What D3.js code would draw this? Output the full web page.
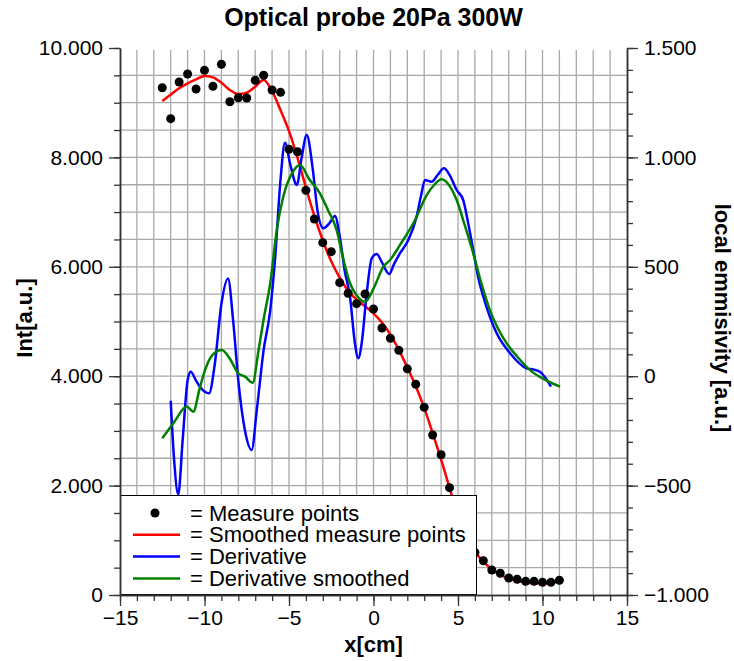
<!DOCTYPE html>
<html>
<head>
<meta charset="utf-8">
<script src="https://cdn.jsdelivr.net/npm/d3@7"></script>
<style>
  body { margin: 0; background: #fff; }
  svg text { font-family: "Liberation Sans", Arial, sans-serif; }
</style>
</head>
<body>
<div id="container"></div>
<script>
/* CONSTANTS AND GLOBALS */
const width = 734;
const height = 661;
const margin = { top: 48, right: 107, bottom: 66, left: 120 };

/* DATA */
// measure points, x in cm, intensity in a.u. (left axis)
const measureX = [-12.5, -12, -11.5, -11, -10.5, -10, -9.5, -9, -8.5, -8, -7.5, -7, -6.5, -6, -5.5, -5,
  -4.5, -4, -3.5, -3, -2.5, -2, -1.5, -1, -0.5, 0, 0.5, 1, 1.5, 2, 2.5, 3, 3.5, 4, 4.5, 5, 5.5, 6,
  6.5, 7, 7.5, 8, 8.5, 9, 9.5, 10, 10.5, 11];
const measureY = [9274, 8708, 9378, 9525, 9250, 9592, 9300, 9702, 9018, 9091, 9086, 9410, 9501, 9232, 9190, 8148,
  8104, 7398, 6874, 6441, 6277, 5710, 5516, 5326, 5503, 5229, 4881, 4693, 4473, 4135, 3852, 3431, 2925, 2565, 1962, 1400, 1000, 780,
  627, 457, 397, 311, 287, 250, 250, 232, 232, 269];
const smoothY = [9030, 9150, 9263, 9355, 9428, 9488, 9464, 9366, 9232, 9159, 9183, 9293, 9415, 9210, 8860, 8480,
  8000, 7450, 6930, 6480, 6100, 5800, 5560, 5400, 5280, 5150, 4980, 4760, 4480, 4160, 3820, 3420, 2960, 2480, 1960, 1450, 1050, 790,
  610, 470, 370, 300, 260, 230, 215, 210, 220, 250];

// derivative (right axis, local emissivity)
const derivX = [-12, -11.8, -11.55, -11.3, -11, -10.82, -10.5, -10.27, -9.73, -9.4, -9, -8.61, -8.3, -8, -7.6, -7.21,
  -6.9, -6.5, -6.12, -5.83, -5.5, -5.24, -4.9, -4.54, -4.25, -3.95, -3.6, -3.3, -2.97, -2.6, -2.28, -2, -1.7, -1.39,
  -1.1, -0.9, -0.7, -0.4, -0.1, 0.19, 0.5, 0.93, 1.2, 1.57, 2.06, 2.55, 2.8, 3.05, 3.44, 3.8, 4.17, 4.5, 4.92, 5.31,
  5.6, 5.9, 6.2, 6.5, 7.29, 8.08, 9.06, 9.5, 9.85, 10.2, 10.5];
const derivY = [-112, -380, -540, -300, -20, 20, -20, -48, -78, 50, 330, 447, 250, -20, -250, -337,
  -150, 120, 295, 531, 900, 1067, 960, 874, 1000, 1102, 950, 750, 676, 700, 732, 640, 480, 363,
  150, 82, 150, 380, 540, 558, 520, 467, 510, 562, 622, 729, 820, 897, 889, 920, 950, 920, 851, 805,
  700, 577, 450, 363, 196, 105, 36, 30, 20, -10, -48];

const derivSmoothX = [-12.5, -11.8, -11.05, -10.66, -10.3, -9.97, -9.5, -8.98, -8.5, -8, -7.6, -7.15, -6.8, -6.5, -6.12,
  -5.7, -5.34, -4.8, -4.35, -3.8, -3.17, -2.7, -2.18, -1.8, -1.39, -1, -0.5, 0, 0.58, 0.98, 1.57, 2.46, 3.15, 3.6,
  4.03, 4.5, 4.92, 5.4, 5.9, 6.4, 6.89, 7.88, 8.5, 9.26, 10, 11.04];
const derivSmoothY = [-284, -210, -139, -162, -60, 28, 100, 120, 80, 13, -2, -30, 120, 260, 420,
  680, 820, 930, 965, 900, 836, 760, 668, 540, 425, 370, 340, 400, 500, 531, 600, 714, 828, 875,
  900, 870, 805, 690, 562, 420, 302, 150, 90, 28, -10, -48];

// ticks
const xMajor = [-15, -10, -5, 0, 5, 10, 15];
const xMinor = d3.range(-15, 16, 1);
const yLeftMajor = [0, 2000, 4000, 6000, 8000, 10000];
const yLeftMinor = d3.range(0, 10001, 500);
const yRightMajor = [-1000, -500, 0, 500, 1000, 1500];
const yRightMinor = d3.range(-1000, 1501, 100);

const legendItems = [
  { label: "= Measure points", type: "dot", color: "#000" },
  { label: "= Smoothed measure points", type: "line", color: "#ff0000" },
  { label: "= Derivative", type: "line", color: "#0000ff" },
  { label: "= Derivative smoothed", type: "line", color: "#008000" }
];

const locale = d3.formatLocale({ decimal: ",", thousands: ".", grouping: [3], currency: ["", ""], minus: "\u2212" });
const fmt = locale.format(",d");

/* SCALES */
const xScale = d3.scaleLinear().domain([-15, 15]).range([margin.left, width - margin.right]);
const yLeft = d3.scaleLinear().domain([0, 10000]).range([height - margin.bottom, margin.top]);
const yRight = d3.scaleLinear().domain([-1000, 1500]).range([height - margin.bottom, margin.top]);

const svg = d3.select("#container").append("svg")
  .attr("width", width)
  .attr("height", height);

/* GRID */
const grid = svg.append("g").attr("stroke", "#a8a8a8").attr("stroke-width", 1.3);
grid.selectAll("line.vx")
  .data(xMinor.filter(d => d > -15 && d < 15))
  .join("line")
  .attr("x1", d => xScale(d)).attr("x2", d => xScale(d))
  .attr("y1", yLeft(10000) + 2).attr("y2", yLeft(0));
grid.selectAll("line.hy")
  .data(yLeftMinor.filter(d => d > 0 && d < 10000))
  .join("line")
  .attr("x1", xScale(-15)).attr("x2", xScale(15))
  .attr("y1", d => yLeft(d)).attr("y2", d => yLeft(d));

/* LINES */
const lineSmooth = d3.line()
  .x((d, i) => xScale(measureX[i]))
  .y(d => yLeft(d))
  .curve(d3.curveMonotoneX);
svg.append("path")
  .datum(smoothY)
  .attr("d", lineSmooth)
  .attr("fill", "none").attr("stroke", "#ff0000").attr("stroke-width", 2.5);

const lineDeriv = d3.line()
  .x(d => xScale(d[0]))
  .y(d => yRight(d[1]))
  .curve(d3.curveMonotoneX);
svg.append("path")
  .datum(derivX.map((x, i) => [x, derivY[i]]))
  .attr("d", lineDeriv)
  .attr("fill", "none").attr("stroke", "#0000ff").attr("stroke-width", 2.5);
svg.append("path")
  .datum(derivSmoothX.map((x, i) => [x, derivSmoothY[i]]))
  .attr("d", lineDeriv)
  .attr("fill", "none").attr("stroke", "#008000").attr("stroke-width", 2.5);

svg.selectAll("circle.pt")
  .data(measureY)
  .join("circle")
  .attr("class", "pt")
  .attr("cx", (d, i) => xScale(measureX[i]))
  .attr("cy", d => yLeft(d))
  .attr("r", 4.5)
  .attr("fill", "#000");

/* LEGEND */
const legend = svg.append("g");
legend.append("rect")
  .attr("x", 120.5).attr("y", 495.5)
  .attr("width", 356).attr("height", 99)
  .attr("fill", "#fff").attr("stroke", "#000").attr("stroke-width", 1);
legendItems.forEach((d, i) => {
  const cy = 513 + i * 21.8;
  if (d.type === "dot") {
    legend.append("circle").attr("cx", 155).attr("cy", cy).attr("r", 4.5).attr("fill", d.color);
  } else {
    legend.append("line").attr("x1", 133).attr("x2", 180).attr("y1", cy).attr("y2", cy)
      .attr("stroke", d.color).attr("stroke-width", 2.5);
  }
  legend.append("text")
    .attr("x", 190).attr("y", cy + 7.5)
    .attr("font-size", 22)
    .text(d.label);
});

/* AXES */
function styleAxis(g) {
  g.select(".domain").attr("stroke", "#333").attr("stroke-width", 1.5);
  g.selectAll(".tick line").attr("stroke", "#333").attr("stroke-width", 1.3);
  g.selectAll("text").attr("font-size", 21).attr("fill", "#000")
    .attr("font-family", "'Liberation Sans', Arial, sans-serif");
}

const xAxis = svg.append("g").attr("transform", `translate(0,${height - margin.bottom})`);
xAxis.append("g").call(d3.axisBottom(xScale).tickValues(xMinor).tickSize(6).tickSizeOuter(0).tickFormat(""))
  .call(styleAxis);
xAxis.append("g").call(d3.axisBottom(xScale).tickValues(xMajor).tickSize(11).tickSizeOuter(0).tickPadding(4).tickFormat(fmt))
  .call(styleAxis);

const yAxisL = svg.append("g").attr("transform", `translate(${margin.left},0)`);
yAxisL.append("g").call(d3.axisLeft(yLeft).tickValues(yLeftMinor).tickSize(6).tickSizeOuter(0).tickFormat(""))
  .call(styleAxis);
yAxisL.append("g").call(d3.axisLeft(yLeft).tickValues(yLeftMajor).tickSize(11).tickSizeOuter(0).tickPadding(6).tickFormat(fmt))
  .call(styleAxis);

const yAxisR = svg.append("g").attr("transform", `translate(${width - margin.right},0)`);
yAxisR.append("g").call(d3.axisRight(yRight).tickValues(yRightMinor).tickSize(6).tickSizeOuter(0).tickFormat(""))
  .call(styleAxis);
yAxisR.append("g").call(d3.axisRight(yRight).tickValues(yRightMajor).tickSize(11).tickSizeOuter(0).tickPadding(6).tickFormat(fmt))
  .call(styleAxis);

/* TITLES */
svg.append("text")
  .attr("x", (margin.left + width - margin.right) / 2).attr("y", 26)
  .attr("text-anchor", "middle").attr("font-size", 25).attr("font-weight", "bold")
  .text("Optical probe 20Pa 300W");
svg.append("text")
  .attr("x", (margin.left + width - margin.right) / 2).attr("y", 652)
  .attr("text-anchor", "middle").attr("font-size", 22).attr("font-weight", "bold")
  .text("x[cm]");
svg.append("text")
  .attr("transform", "translate(32,318) rotate(-90)")
  .attr("text-anchor", "middle").attr("font-size", 22).attr("font-weight", "bold")
  .text("Int[a.u.]");
svg.append("text")
  .attr("transform", "translate(715,318) rotate(90)")
  .attr("text-anchor", "middle").attr("font-size", 22).attr("font-weight", "bold")
  .text("local emmisivity [a.u.]");
</script>
</body>
</html>
